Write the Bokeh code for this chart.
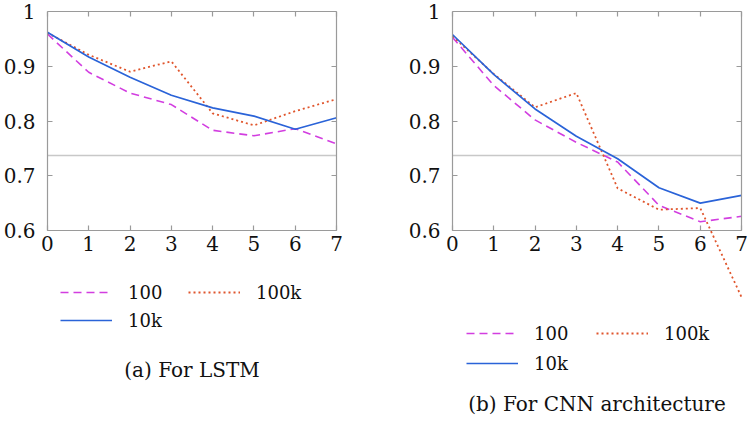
from bokeh.plotting import figure
from bokeh.models import (Range1d, LinearAxis, FixedTicker, Legend, LegendItem, Title,
                          CustomLabelingPolicy, AllLabels)
from bokeh.layouts import row
from bokeh.embed import file_html
from bokeh.resources import INLINE

# ---- data ----
epochs = [0, 1, 2, 3, 4, 5, 6, 7]
x_ticks = [0, 1, 2, 3, 4, 5, 6, 7]
y_ticks = [0.6, 0.7, 0.8, 0.9, 1.0]
series_names = ["100", "100k", "10k"]

lstm_100 = [0.959, 0.889, 0.851, 0.830, 0.783, 0.773, 0.786, 0.758]
lstm_100k = [0.961, 0.921, 0.890, 0.909, 0.814, 0.792, 0.818, 0.840]
lstm_10k = [0.962, 0.917, 0.880, 0.847, 0.824, 0.809, 0.785, 0.806]

cnn_100 = [0.953, 0.865, 0.802, 0.761, 0.725, 0.646, 0.616, 0.626]
cnn_100k = [0.955, 0.886, 0.825, 0.851, 0.677, 0.638, 0.641, 0.478]
cnn_10k = [0.958, 0.885, 0.822, 0.772, 0.731, 0.678, 0.650, 0.664]

baseline = 0.737

captions = ["(a) For LSTM", "(b) For CNN architecture"]

# ---- style ----
COLORS = {"100": "#d23ee0", "100k": "#e0552c", "10k": "#2a63d8"}
DASHES = {"100": "8 5", "100k": "2 3", "10k": "solid"}
WIDTHS = {"100": 1.6, "100k": 1.8, "10k": 1.7}
AXIS_GRAY = "#9a9a9a"
SERIF = "DejaVu Serif"
PX_PER_X = 42.0      # pixels per x unit
PX_PER_Y = 547.5     # pixels per y unit
PAD = 6.0            # px of frame padding left/right of the plot box


def tick_axis(ticker, bounds, fixed=None):
    ax = LinearAxis(ticker=ticker, bounds=bounds, fixed_location=fixed,
                    major_label_policy=CustomLabelingPolicy(code="return new Set()"))
    ax.axis_line_color = AXIS_GRAY
    ax.axis_line_width = 1.2
    ax.major_tick_line_color = AXIS_GRAY
    ax.major_tick_line_width = 1.2
    ax.major_tick_in = 5
    ax.major_tick_out = 0
    ax.minor_tick_line_color = None
    ax.major_label_text_font_size = "1px"
    ax.major_label_standoff = 0
    return ax


def label_style(ax, standoff):
    ax.major_label_text_font = SERIF
    ax.major_label_text_font_size = "20px"
    ax.major_label_text_color = "#111111"
    ax.major_label_standoff = standoff


def make_panel(series, width, frame_bottom, mb_left, mb_right, legend_loc, spacing,
               caption, cap_offset, cap_standoff):
    height = 431
    top = 11
    y_start = 1.0 - (frame_bottom - top) / PX_PER_Y
    xpad = PAD / PX_PER_X
    p = figure(width=width, height=height, output_backend="svg", toolbar_location=None,
               x_range=Range1d(x_ticks[0] - xpad, x_ticks[-1] + xpad),
               y_range=Range1d(y_start, 1.0),
               x_axis_location=None, y_axis_location=None,
               min_border_left=mb_left, min_border_right=mb_right,
               min_border_top=top, min_border_bottom=height - frame_bottom,
               frame_align=False)
    p.grid.visible = False
    p.outline_line_color = None
    p.background_fill_color = "white"
    p.border_fill_color = "white"

    xt = FixedTicker(ticks=x_ticks)
    yt = FixedTicker(ticks=y_ticks)
    xb = (x_ticks[0], x_ticks[-1])
    yb = (y_ticks[0], y_ticks[-1])

    # y tick labels (left panel, no line / ticks)
    ylab = LinearAxis(ticker=yt, major_label_overrides={1: "1"})
    label_style(ylab, 0)
    ylab.axis_line_color = None
    ylab.major_tick_line_color = None
    ylab.minor_tick_line_color = None
    p.add_layout(ylab, "left")

    # plot box made of axes with inward ticks
    bottom = tick_axis(xt, xb, fixed=y_ticks[0])
    bottom.major_label_policy = AllLabels()
    label_style(bottom, 5)
    p.add_layout(bottom, "below")
    p.add_layout(tick_axis(xt, xb), "above")
    p.add_layout(tick_axis(yt, yb, fixed=x_ticks[0]), "left")
    p.add_layout(tick_axis(yt, yb, fixed=x_ticks[-1]), "right")

    p.segment(x0=[epochs[0]], x1=[epochs[-1]], y0=[baseline], y1=[baseline],
              line_color="#c8c8c8", line_width=1.6)

    renderers = {}
    for name, vals in zip(series_names, series):
        renderers[name] = p.line(epochs, vals, line_color=COLORS[name], line_dash=DASHES[name],
                                 line_width=WIDTHS[name])

    items = [LegendItem(label=n, renderers=[renderers[n]]) for n in series_names]
    leg = Legend(items=items, location=legend_loc, orientation="horizontal", ncols=2,
                 label_text_font=SERIF, label_text_font_size="18px",
                 label_text_color="#111111",
                 glyph_width=52, glyph_height=24, label_height=24, label_width=56,
                 label_standoff=16, spacing=spacing, padding=0, margin=0,
                 border_line_color=None, background_fill_alpha=0)
    p.add_layout(leg)

    p.add_layout(Title(text=caption, align="center", offset=cap_offset, standoff=cap_standoff,
                       text_font=SERIF, text_font_size="20px", text_font_style="normal",
                       text_color="#111111"), "below")
    return p


p1 = make_panel([lstm_100, lstm_100k, lstm_10k], 405, 333, 36, 63, (19, 1), 4,
                captions[0], 13, 44)
p2 = make_panel([cnn_100, cnn_100k, cnn_10k], 343, 376, 36, 1, (20, 1), 6,
                captions[1], 15, 27)

p = row(p1, p2)
open("out.html", "w").write(file_html(p, INLINE))
